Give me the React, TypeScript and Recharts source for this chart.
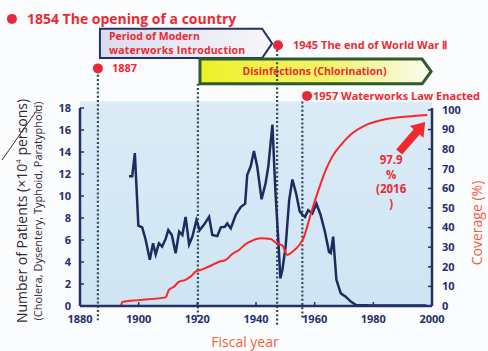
import React from "react";
import {
  ComposedChart, Line, XAxis, YAxis, ReferenceLine, ReferenceDot, ReferenceArea,
} from "recharts";

// Patients (x10^4 persons)
const PATIENT_YEARS = [
  1896.7, 1897.8, 1898.7, 1899.9, 1901.2, 1902.4, 1903.8, 1904.9, 1905.8, 1906.9,
  1908, 1909.2, 1910.1, 1911.3, 1912.6, 1913.8, 1914.9, 1916, 1917.2, 1918.3,
  1919.7, 1920.8, 1922.3, 1924, 1925.1, 1926.8, 1928, 1929.4, 1930.2, 1931.4,
  1933.1, 1934.8, 1936.3, 1937, 1938.2, 1939.3, 1940.4, 1941.9, 1943.3, 1944.2,
  1945.6, 1946.6, 1947.6, 1948.3, 1949, 1950.1, 1951.3, 1952.4, 1953.7, 1954.9,
  1955.8, 1956.7, 1957.8, 1959.2, 1960.6, 1962, 1963.5, 1964.9, 1965.5, 1966.3,
  1967.4, 1968.9, 1970.6, 1972.3, 1974, 1980, 1990, 1998,
];
const PATIENTS = [
  11.8, 11.8, 13.9, 7.3, 7.15, 6.0, 4.2, 5.7, 4.7, 5.7,
  5.4, 6.1, 6.9, 6.45, 4.8, 6.75, 6.45, 8.1, 5.6, 6.3,
  7.8, 6.9, 7.4, 8.1, 6.45, 6.35, 7.15, 7.2, 7.5, 7.05,
  8.3, 9.0, 9.3, 11.9, 12.7, 14.1, 12.7, 9.7, 11.2, 12.7,
  16.5, 10.5, 6.0, 2.5, 3.3, 5.4, 9.6, 11.5, 10.2, 8.6,
  8.3, 8.1, 8.7, 8.4, 9.3, 8.3, 6.75, 4.9, 4.8, 6.3,
  2.4, 1.15, 0.85, 0.4, 0.1, 0.05, 0.05, 0.05,
];

// Waterworks coverage (%)
const COVERAGE_YEARS = [
  1886.5, 1893.9, 1894.4, 1900, 1909.2, 1910.3, 1912, 1913.8, 1916, 1917.7,
  1919.4, 1921.7, 1925.1, 1927.4, 1929.7, 1931.9, 1934.2, 1936.5, 1938.7, 1941.6,
  1945, 1946.7, 1949, 1950.7, 1952.4, 1954.7, 1956.4, 1958.1, 1959.8, 1961.5,
  1963.8, 1966, 1969.4, 1972.8, 1977.4, 1983, 1988.8, 1994.5, 1998.4,
];
const COVERAGE = [
  0, 0, 2, 3, 4.4, 8.2, 9.8, 12.4, 13.3, 15,
  17.5, 18.7, 20.9, 22.6, 23.5, 26.5, 28.6, 31.6, 33.3, 34.5,
  34.2, 32.3, 30.8, 26, 27.7, 31, 35.4, 43.9, 52.4, 60,
  69.4, 76.2, 83, 88.1, 92.3, 94.9, 96.3, 97, 97.4,
];

const X_TICKS = [1880, 1900, 1920, 1940, 1960, 1980, 2000];
const LEFT_TICKS = [0, 2, 4, 6, 8, 10, 12, 14, 16, 18];
const RIGHT_TICKS = [0, 10, 20, 30, 40, 50, 60, 70, 80, 90, 100];

// event markers: [year of dotted line, line top, line bottom] in left-axis units
const EVENT_LINES = [
  [1886.1, 21.4, -1.3],
  [1920.2, 20.2, -1.1],
  [1947.2, 23.3, -1.9],
  [1955.8, 18.6, -1.1],
];
const EVENT_DOTS = [
  { year: 1856.8, y: 26.1, text: "1854 The opening of a country", size: 14, offset: 10 },
  { year: 1886.1, y: 21.6, text: "1887", size: 11, offset: 9 },
  { year: 1947.5, y: 23.7, text: "1945 The end of World War \u2161", size: 11, offset: 10 },
  { year: 1957.4, y: 19.1, text: "1957 Waterworks Law Enacted", size: 11, offset: 1 },
];

const patientData = PATIENT_YEARS.map((year, i) => ({ year, v: PATIENTS[i] }));
const coverageData = COVERAGE_YEARS.map((year, i) => ({ year, v: COVERAGE[i] }));

const RED = "#ec2a33";
const NAVY = "#24306a";
const FONT = "'Open Sans', 'Noto Sans', sans-serif";
const tickStyle = { fill: NAVY, fontSize: 11, fontWeight: 700, fontFamily: FONT };

function ModernBox(props: any) {
  const { x, y, width, height } = props;
  const p = `${x},${y} ${x + width - 10},${y} ${x + width},${y + height / 2} ${x + width - 10},${y + height} ${x},${y + height}`;
  return (
    <g>
      <polygon points={p} fill="url(#modernFill)" stroke={NAVY} strokeWidth={2} />
      <text x={x + 9} y={y + 11.5} fill={RED} fontSize={10.5} fontWeight={700} fontFamily={FONT}>Period of Modern</text>
      <text x={x + 9} y={y + 25} fill={RED} fontSize={10.5} fontWeight={700} fontFamily={FONT} letterSpacing={0.2}>waterworks Introduction</text>
    </g>
  );
}

function ChlorBox(props: any) {
  const { x, y, width, height } = props;
  const p = `${x},${y} ${x + width - 9},${y} ${x + width},${y + height / 2} ${x + width - 9},${y + height} ${x},${y + height}`;
  return (
    <g>
      <polygon points={p} fill="url(#chlorFill)" stroke="#2f5a2c" strokeWidth={3} />
      <text x={x + width / 2 - 1} y={y + height / 2 + 4} textAnchor="middle" fill={RED} fontSize={10.5} fontWeight={700} fontFamily={FONT}>
        Disinfections (Chlorination)
      </text>
    </g>
  );
}

function Arrow2016(props: any) {
  const { cx, cy } = props;
  const pts = [[-15, 12.4], [2.5, -7.8], [-1.3, -11.1], [14, -15], [12.3, 0.7], [8.5, -2.6], [-9, 17.6]]
    .map(([dx, dy]) => `${cx + dx},${cy + dy}`).join(" ");
  const lines = ["97.9", "%", "(2016", ")"];
  return (
    <g>
      <polygon points={pts} fill="#ee2a2a" />
      {lines.map((t, i) => (
        <text key={i} x={cx - 20} y={cy + 27 + i * 14.5} textAnchor="middle" fill={RED} fontSize={11.5} fontWeight={700} fontFamily={FONT}>{t}</text>
      ))}
    </g>
  );
}

function LeftLabel(props: any) {
  const vb = props.viewBox || { x: 0, y: 108, width: 80, height: 198 };
  const cy = vb.y + vb.height / 2 + 4;
  return (
    <g>
      <text x={vb.x + 27} y={cy} transform={`rotate(-90 ${vb.x + 27} ${cy})`} textAnchor="middle" fill="#2b2b33" fontSize={14} fontFamily={FONT}>
        Number of Patients (×10<tspan fontSize={8} dy={-6}>4</tspan><tspan dy={6}> persons)</tspan>
      </text>
      <text x={vb.x + 42} y={cy} transform={`rotate(-90 ${vb.x + 42} ${cy})`} textAnchor="middle" fill="#2b2b33" fontSize={11} fontFamily={FONT}>
        (Cholera, Dysentery, Typhoid, Paratyphoid)
      </text>
      <line x1={vb.x + 2} y1={vb.y + 52} x2={vb.x + 37} y2={vb.y + 2} stroke="#333" strokeWidth={1} />
    </g>
  );
}

function RightLabel(props: any) {
  const vb = props.viewBox || { x: 432, y: 108, width: 56, height: 198 };
  const x = vb.x + 50;
  const cy = vb.y + vb.height / 2 + 16;
  return (
    <text x={x} y={cy} transform={`rotate(-90 ${x} ${cy})`} textAnchor="middle" fill="#f2603e" fontSize={14} fontFamily={FONT}>
      Coverage (%)
    </text>
  );
}

function XLabel(props: any) {
  const vb = props.viewBox || { x: 80, y: 306, width: 352, height: 45 };
  return (
    <text x={vb.x + vb.width / 2 - 11} y={vb.y + 41} textAnchor="middle" fill="#f2603e" fontSize={14} fontFamily={FONT}>
      Fiscal year
    </text>
  );
}

export default function App() {
  return (
    <div style={{ position: "absolute", left: 0, top: 0, width: 488, height: 351, background: "#fbfcfd" }}>
      <ComposedChart width={488} height={351} margin={{ top: 108, right: 0, bottom: 0, left: 0 }}>
        <defs>
          <linearGradient id="plotFill" x1="0" y1="0" x2="0" y2="1">
            <stop offset="0%" stopColor="#dcecf7" />
            <stop offset="100%" stopColor="#cfe4f3" />
          </linearGradient>
          <linearGradient id="modernFill" x1="0" y1="0" x2="1" y2="0">
            <stop offset="0%" stopColor="#d9dcec" />
            <stop offset="100%" stopColor="#f7f7fa" />
          </linearGradient>
          <linearGradient id="chlorFill" x1="0" y1="0" x2="1" y2="0">
            <stop offset="0%" stopColor="#eef02a" />
            <stop offset="55%" stopColor="#f2f36a" />
            <stop offset="100%" stopColor="#fbfbf2" />
          </linearGradient>
        </defs>
        <XAxis
          dataKey="year" type="number" domain={[1880, 2000]} ticks={X_TICKS} allowDataOverflow
          height={45} tick={tickStyle} tickSize={-4} tickMargin={13}
          tickLine={{ stroke: NAVY, strokeWidth: 1.5 }} axisLine={{ stroke: NAVY, strokeWidth: 2.5 }}
          label={{ content: XLabel }}
        />
        <YAxis
          yAxisId="left" domain={[0, 18]} ticks={LEFT_TICKS} allowDataOverflow width={80}
          tick={tickStyle} tickSize={-4} tickMargin={13}
          tickLine={{ stroke: NAVY, strokeWidth: 1.5 }} axisLine={{ stroke: NAVY, strokeWidth: 2.5 }}
          label={{ content: LeftLabel }}
        />
        <YAxis
          yAxisId="right" orientation="right" domain={[0, 101]} ticks={RIGHT_TICKS} allowDataOverflow width={56}
          tick={tickStyle} tickSize={-4} tickMargin={14}
          tickLine={{ stroke: NAVY, strokeWidth: 1.5 }} axisLine={{ stroke: NAVY, strokeWidth: 2.5 }}
          label={{ content: RightLabel }}
        />
        <ReferenceArea yAxisId="left" x1={1880} x2={2000} y1={0} y2={18.6} ifOverflow="visible" fill="url(#plotFill)" fillOpacity={1} stroke="none" />
        {EVENT_LINES.map(([yr, top, bottom]) => (
          <ReferenceLine
            key={yr} yAxisId="left" ifOverflow="visible"
            segment={[{ x: yr, y: top }, { x: yr, y: bottom }]}
            stroke="#2f4f55" strokeWidth={2.2} strokeDasharray="2 2.2"
          />
        ))}
        <ReferenceArea yAxisId="left" x1={1886.8} x2={1945.5} y1={22.55} y2={25.2} ifOverflow="visible" shape={ModernBox} />
        <ReferenceArea yAxisId="left" x1={1920.9} x2={1999.7} y1={20.2} y2={22.45} ifOverflow="visible" shape={ChlorBox} />
        {EVENT_DOTS.map((d) => (
          <ReferenceDot
            key={d.text} yAxisId="left" x={d.year} y={d.y} r={5} ifOverflow="visible"
            fill="#e8283a" stroke="none"
            label={{ value: d.text, position: "right", offset: d.offset, fill: RED, fontSize: d.size, fontWeight: 700, fontFamily: FONT }}
          />
        ))}
        <Line
          yAxisId="left" data={patientData} dataKey="v" type="linear" stroke="#1e2b5e"
          strokeWidth={2.5} dot={false} isAnimationActive={false}
        />
        <Line
          yAxisId="right" data={coverageData} dataKey="v" type="monotone" stroke="#ff2424"
          strokeWidth={2} dot={false} isAnimationActive={false}
        />
        <ReferenceDot yAxisId="right" x={1992.9} y={86.2} r={1} ifOverflow="visible" shape={Arrow2016} />
      </ComposedChart>
    </div>
  );
}
